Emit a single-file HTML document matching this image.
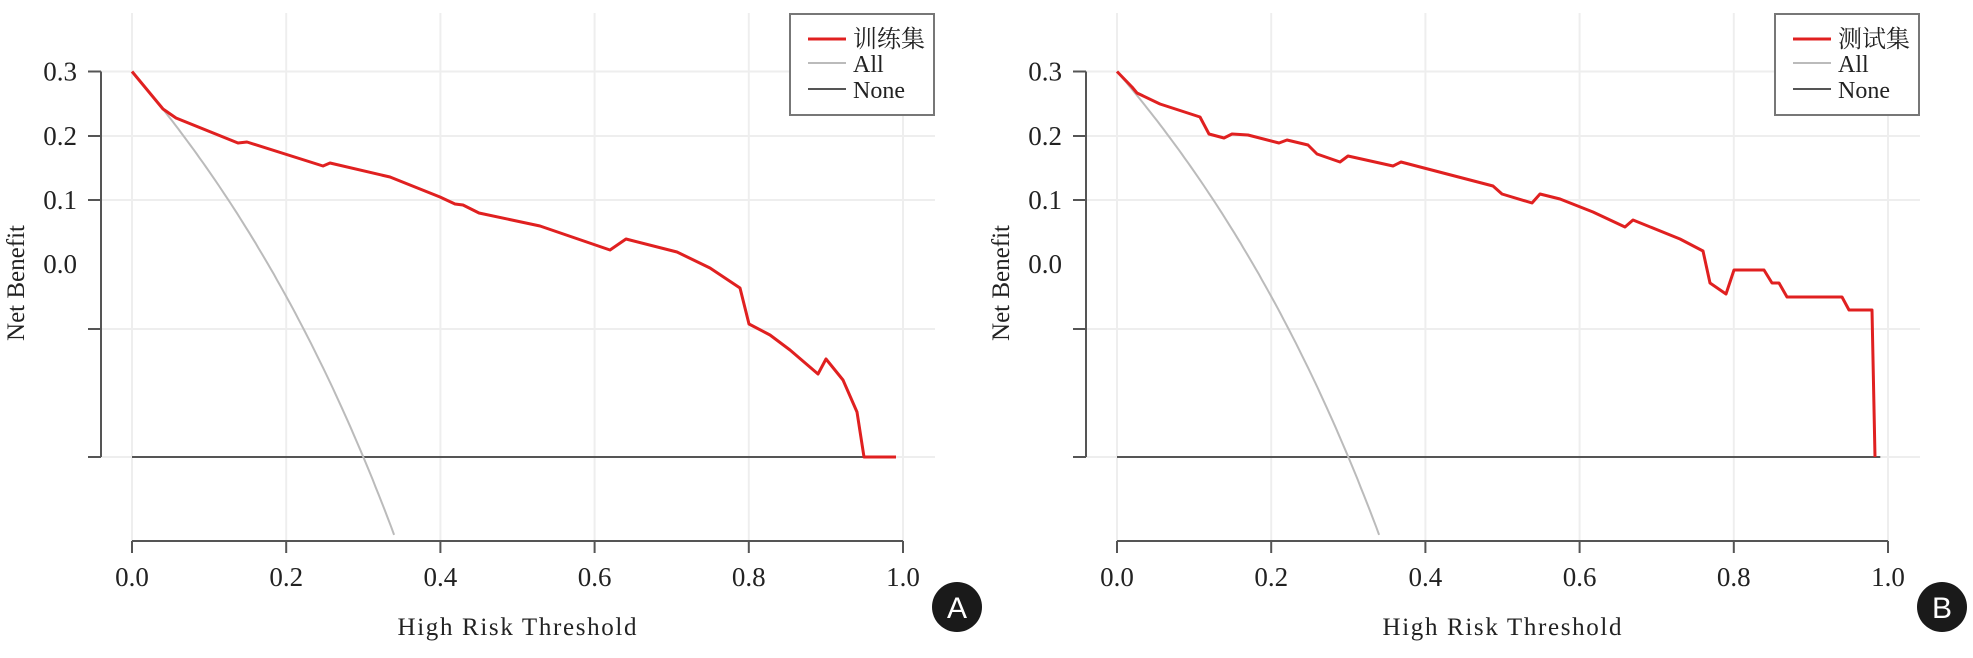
<!DOCTYPE html>
<html><head><meta charset="utf-8"><style>
html,body{margin:0;padding:0;background:#fff;}
svg{display:block;}
text{font-family:"Liberation Serif","Noto Serif CJK SC","Noto Sans CJK SC",serif;fill:#222;}
</style></head><body>
<svg id="s" width="1973" height="658" viewBox="0 0 1973 658" xmlns="http://www.w3.org/2000/svg"></svg>
<script>
const s=document.getElementById('s');let h='';
function panel(off,name,red,letter){
  const x0=132+off,ax=101+off;
  for(let i=0;i<=5;i++){const x=x0+i*154.2;h+=`<line x1="${x}" y1="13" x2="${x}" y2="541" stroke="#eeeeee" stroke-width="2"/>`;}
  [71.5,136,200,329,457].forEach(y=>{h+=`<line x1="${ax}" y1="${y}" x2="${935+off}" y2="${y}" stroke="#eeeeee" stroke-width="2"/>`;});
  h+=`<line x1="${ax}" y1="71.5" x2="${ax}" y2="457" stroke="#555" stroke-width="2"/>`;
  [71.5,136,200,329,457].forEach(y=>{h+=`<line x1="${ax-13}" y1="${y}" x2="${ax}" y2="${y}" stroke="#555" stroke-width="2"/>`;});
  [["0.3",71.5],["0.2",136],["0.1",200],["0.0",264]].forEach(([t,y])=>{h+=`<text x="${77+off}" y="${y+9}" font-size="27" text-anchor="end">${t}</text>`;});
  h+=`<text transform="translate(${24+off},283) rotate(-90)" font-size="25" text-anchor="middle">Net Benefit</text>`;
  h+=`<line x1="${x0}" y1="541" x2="${x0+771}" y2="541" stroke="#555" stroke-width="2"/>`;
  for(let i=0;i<=5;i++){const x=x0+i*154.2;h+=`<line x1="${x}" y1="541" x2="${x}" y2="553" stroke="#555" stroke-width="2"/>`;
    h+=`<text x="${x}" y="586" font-size="27" text-anchor="middle">${(i*0.2).toFixed(1)}</text>`;}
  h+=`<text x="${517+off}" y="635" font-size="25" text-anchor="middle" textLength="239">High Risk Threshold</text>`;
  h+=`<line x1="${x0}" y1="457" x2="${x0+0.99*771}" y2="457" stroke="#555" stroke-width="2"/>`;
  let p=[];for(let t=0;t<=0.3432;t+=0.004){const d=0.3-0.7*t/(1-t);p.push((x0+t*771).toFixed(1)+','+Math.min(541,457-1285*d).toFixed(1));}
  h+=`<polyline points="${p.join(' ')}" fill="none" stroke="#bbbbbb" stroke-width="2"/>`;
  h+=`<polyline points="${red}" fill="none" stroke="#e02020" stroke-width="3" stroke-linejoin="round"/>`;
  const lx=790+off;
  h+=`<rect x="${lx}" y="14" width="144" height="101" fill="#fff" stroke="#777" stroke-width="2"/>`;
  h+=`<line x1="${lx+18}" y1="39" x2="${lx+56}" y2="39" stroke="#e02020" stroke-width="3"/>`;
  h+=`<line x1="${lx+18}" y1="63" x2="${lx+56}" y2="63" stroke="#bbb" stroke-width="2"/>`;
  h+=`<line x1="${lx+18}" y1="89" x2="${lx+56}" y2="89" stroke="#555" stroke-width="2"/>`;
  h+=`<text x="${lx+63}" y="47" font-size="24">${name}</text>`;
  h+=`<text x="${lx+63}" y="72" font-size="24">All</text>`;
  h+=`<text x="${lx+63}" y="98" font-size="24">None</text>`;
  h+=`<circle cx="${957+off}" cy="607" r="25" fill="#1a1a1a"/>`;
  h+=`<text x="${957+off}" y="618" font-size="30" text-anchor="middle" style="font-family:'Liberation Sans',sans-serif;fill:#fff">${letter}</text>`;
}
const redA="132,71.5 163,109 176,118 238,143 247,142 323,166 330,163 390,177 440,197 455,204 463,205 479,213 540,226 610,250 626,239 677,252 710,268 740,288 749,324 770,335 790,350 818,374 826,359 843,380 857,412 864,457 896,457";
const redB="1117,71.5 1132,87 1137,93 1160,104 1200,117 1209,134 1224,138 1232,134 1248,135 1279,143 1287,140 1308,145 1317,154 1340,162 1348,156 1393,166 1401,162 1493,186 1502,194 1532,203 1540,194 1560,199 1593,212 1625,227 1633,220 1680,239 1703,251 1710,283 1726,294 1734,270 1764,270 1772,283 1779,283 1787,297 1842,297 1849,310 1872,310 1875,457";
panel(0,"训练集",redA,"A");
panel(985,"测试集",redB,"B");
s.innerHTML=h;
</script>
</body></html>
